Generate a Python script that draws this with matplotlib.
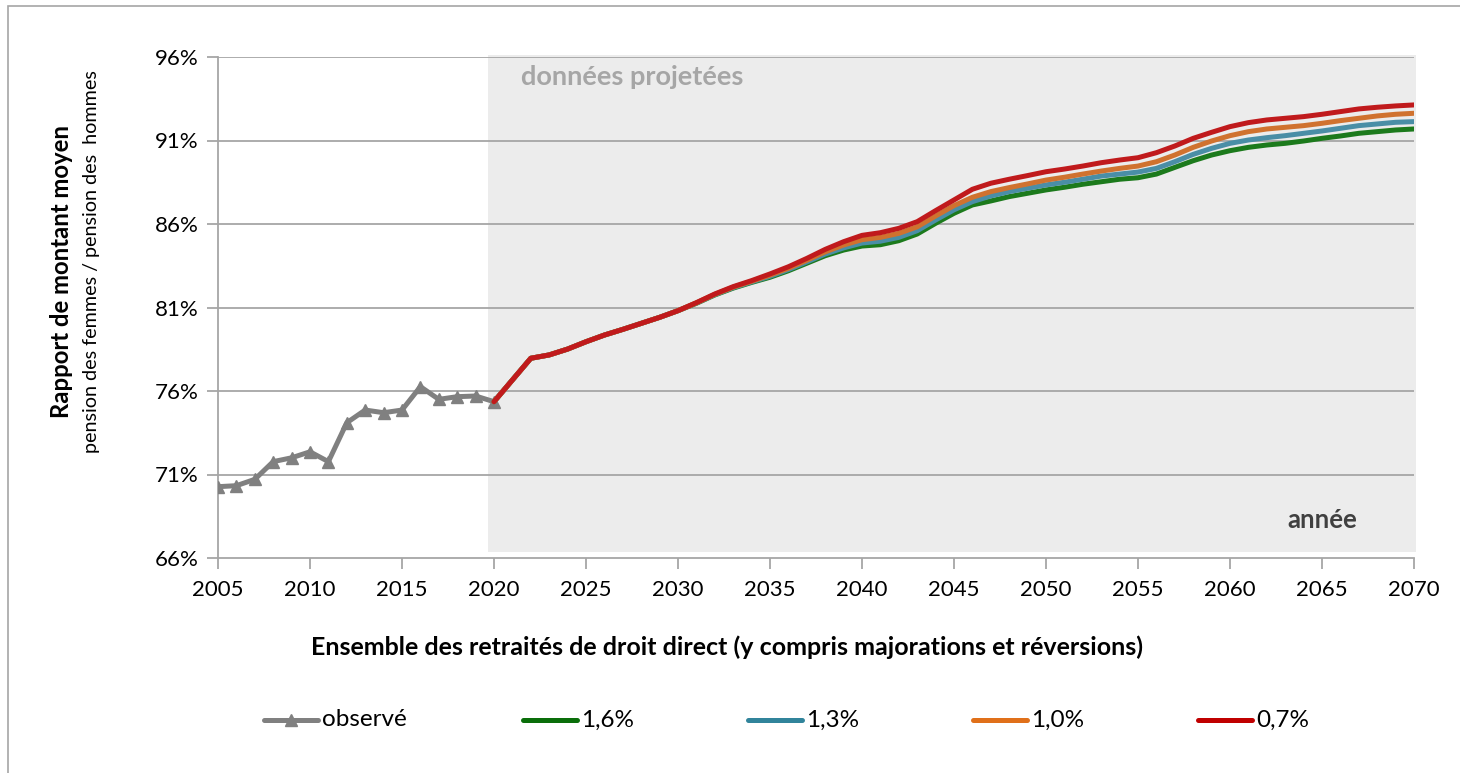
import matplotlib
matplotlib.use("Agg")
import matplotlib.pyplot as plt
from matplotlib.lines import Line2D
from matplotlib.patches import Rectangle

plt.rcParams['font.family'] = ['Lato', 'DejaVu Sans']

# observed ratio (%), 2005-2020
obs_years = list(range(2005, 2021))
obs_values = [70.27, 70.33, 70.71, 71.77, 72.00, 72.36, 71.77, 74.10,
              74.86, 74.70, 74.86, 76.26, 75.50, 75.66, 75.70, 75.36]

# projections (%), 2020 then 2022-2070 (2021 not plotted)
proj_years = [2020] + list(range(2022, 2071))
proj_common = [75.36, 77.96, 78.16, 78.51, 78.95, 79.35, 79.69, 80.05, 80.41, 80.81]  # 2020, 2022-2030

# 2031-2070 per scenario
proj_07 = [81.29, 81.81, 82.25, 82.61, 83.01, 83.44, 83.94, 84.48, 84.94, 85.32,
           85.48, 85.74, 86.14, 86.80, 87.44, 88.08, 88.44, 88.68, 88.90, 89.13,
           89.29, 89.47, 89.67, 89.83, 89.97, 90.27, 90.67, 91.13, 91.49, 91.83,
           92.07, 92.23, 92.33, 92.43, 92.57, 92.73, 92.89, 92.99, 93.07, 93.13]
proj_10 = [81.28, 81.79, 82.22, 82.57, 82.94, 83.35, 83.83, 84.33, 84.74, 85.06,
           85.20, 85.44, 85.83, 86.48, 87.10, 87.60, 87.94, 88.18, 88.40, 88.63,
           88.80, 88.99, 89.17, 89.33, 89.47, 89.73, 90.13, 90.59, 90.97, 91.29,
           91.53, 91.69, 91.79, 91.89, 92.03, 92.19, 92.33, 92.47, 92.57, 92.63]
proj_13 = [81.27, 81.77, 82.19, 82.53, 82.87, 83.27, 83.73, 84.20, 84.57, 84.86,
           84.97, 85.20, 85.60, 86.24, 86.85, 87.34, 87.68, 87.94, 88.14, 88.34,
           88.50, 88.68, 88.87, 88.99, 89.11, 89.33, 89.73, 90.17, 90.53, 90.83,
           91.03, 91.17, 91.29, 91.43, 91.57, 91.73, 91.89, 91.99, 92.09, 92.13]
proj_16 = [81.25, 81.75, 82.16, 82.50, 82.81, 83.20, 83.65, 84.10, 84.44, 84.68,
           84.76, 85.00, 85.40, 86.04, 86.64, 87.14, 87.38, 87.64, 87.84, 88.04,
           88.20, 88.38, 88.53, 88.68, 88.77, 88.99, 89.39, 89.79, 90.13, 90.39,
           90.59, 90.73, 90.83, 90.97, 91.13, 91.27, 91.43, 91.53, 91.63, 91.69]

scenarios = ['1,6%', '1,3%', '1,0%', '0,7%']
scen_values = [proj_16, proj_13, proj_10, proj_07]
scen_colors = ['#1c7a1c', '#4a8ea6', '#d0722f', '#c01a1c']
legend_colors = ['#0a6e0a', '#31849b', '#e0701a', '#c00000']
obs_color = '#808080'

yticks = [66, 71, 76, 81, 86, 91, 96]
xticks = list(range(2005, 2071, 5))

fig = plt.figure(figsize=(14.6, 7.73), dpi=100)
ax = fig.add_axes([218 / 1460, 1 - 558 / 773, 1196 / 1460, 501 / 773])

# projected zone background
ax.axvspan(2019.7, 2070.1, ymin=0.012, ymax=1.004, color='#ececec', zorder=0, clip_on=False, lw=0)

for y in yticks[1:]:
    ax.axhline(y, color='#a6a6a6', lw=1.3, zorder=1)

ax.plot(obs_years, obs_values, color=obs_color, lw=3.6, marker='^', markersize=8,
        zorder=3)
for vals, col in zip(scen_values, scen_colors):
    ax.plot(proj_years, proj_common + vals, color=col, lw=3.6, zorder=4,
            solid_capstyle='round', solid_joinstyle='round')

ax.set_xlim(2005, 2070)
ax.set_ylim(66, 96)
ax.set_xticks(xticks)
ax.set_yticks(yticks)
ax.set_yticklabels([f"{v}%" for v in yticks])
ax.tick_params(axis='both', labelsize=16, color='#a6a6a6', length=8, width=1.3,
               labelcolor='black')
ax.tick_params(axis='x', pad=8)
ax.tick_params(axis='y', pad=6)
for s in ['top', 'right']:
    ax.spines[s].set_visible(False)
for s in ['left', 'bottom']:
    ax.spines[s].set_color('#a6a6a6')
    ax.spines[s].set_linewidth(1.3)

ax.text(2021.45, 94.8, 'données projetées', fontsize=19.5, fontweight='bold',
        color='#a6a6a6', va='center', ha='left')
ax.text(2066.9, 68.3, 'année', fontsize=18.5, fontweight='bold', color='#404040',
        va='center', ha='right')

# axis titles
fig.text(62 / 1460, 1 - 271 / 773, 'Rapport de montant moyen', rotation=90,
         fontsize=17.2, fontweight='bold', ha='center', va='center')
fig.text(92 / 1460, 1 - 262 / 773, 'pension des femmes / pension des  hommes',
         rotation=90, fontsize=14.2, ha='center', va='center')
fig.text(727 / 1460, 1 - 647 / 773,
         'Ensemble des retraités de droit direct (y compris majorations et réversions)',
         fontsize=18, fontweight='bold', ha='center', va='center')

# legend entries (handle start, in pixels)
labels = ['observé'] + scenarios
colors = [obs_color] + legend_colors
starts = [264, 523, 748, 973, 1198]
ly = 1 - 720 / 773
for x_px, lab, col in zip(starts, labels, colors):
    x0 = x_px / 1460
    x1 = (x_px + 54) / 1460
    fig.add_artist(Line2D([x0, x1], [ly, ly], color=col, lw=3.6,
                          solid_capstyle='round'))
    if lab == 'observé':
        fig.add_artist(Line2D([(x0 + x1) / 2], [ly], color=col, marker='^',
                              markersize=8, lw=0))
    fig.text(x1 + 4 / 1460, ly, lab, fontsize=17.5, ha='left', va='center')

# outer frame (top and left edges visible)
fig.add_artist(Rectangle((8 / 1460, -0.1), 1.2, 1.1 - 6 / 773, fill=False,
                         edgecolor='#a6a6a6', lw=1.2, transform=fig.transFigure))

fig.savefig('out.png', dpi=100)
